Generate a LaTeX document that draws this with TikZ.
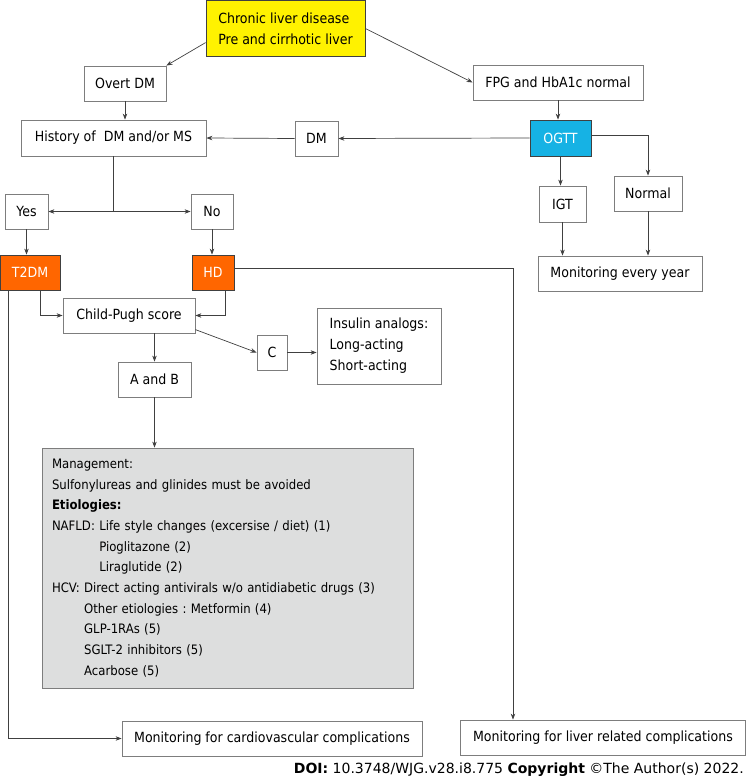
\documentclass[tikz,border=0pt]{standalone}
\usepackage{fontspec}
\setmainfont{DejaVu Sans Condensed}
\newfontfamily\doifont{DejaVu Sans}
\usetikzlibrary{arrows.meta}
\definecolor{cldyellow}{RGB}{255,242,0}
\definecolor{ogttblue}{RGB}{22,178,228}
\definecolor{hotorange}{RGB}{255,102,0}
\definecolor{managegray}{RGB}{221,222,222}
\definecolor{linegray}{RGB}{64,64,64}
\definecolor{framegray}{RGB}{125,125,125}
\frenchspacing

\begin{document}
\begin{tikzpicture}[x=1pt, y=-1pt,
	font=\fontsize{14}{21}\selectfont,
	box/.style={draw=framegray, fill=white, line width=0.8pt, minimum height=35pt, inner sep=0pt},
	hot/.style={box, draw=linegray, fill=hotorange, text=white},
	arr/.style={draw=linegray, line width=0.7pt, -{Stealth[length=6pt,width=4.5pt]}},
	link/.style={draw=linegray, line width=0.7pt}]

	\useasboundingbox (0,0) rectangle (746,783);

	% top row
	\node[box, fill=cldyellow, draw=linegray, minimum width=159pt, minimum height=56pt, align=left] (cld) at (285.5,28.5) {Chronic liver disease\\Pre and cirrhotic liver};
	\node[box, minimum width=82pt] (overt) at (125,83.5) {Overt DM};
	\node[box, minimum width=170pt] (fpg) at (558,82.5) {FPG and HbA1c normal};

	% history and OGTT
	\node[box, minimum width=185pt, minimum height=36pt] (history) at (113.5,138) {History of~ DM and/or MS};
	\node[box, minimum width=43pt] (dmbox) at (316.5,138.5) {DM};
	\node[box, draw=linegray, fill=ogttblue, text=white, minimum width=61pt, minimum height=36pt] (ogtt) at (560.5,138) {OGTT};
	\node[box, minimum width=47pt, minimum height=36pt] (igt) at (562.5,204) {IGT};
	\node[box, minimum width=68pt] (normal) at (648,193.5) {Normal};
	\node[box, minimum width=164pt] (yearly) at (620,273.5) {Monitoring every year};

	% yes / no
	\node[box, minimum width=43pt] (yes) at (26.5,211.5) {Yes};
	\node[box, minimum width=42pt] (no) at (212,211.5) {No};
	\node[hot, minimum width=60pt] (tdm) at (30,272.5) {T2DM};
	\node[hot, minimum width=42pt] (hd) at (213,272.5) {HD};

	% Child-Pugh
	\node[box, minimum width=132pt] (childpugh) at (129,315.5) {Child-Pugh score};
	\node[box, minimum width=73pt] (ab) at (154.5,379.5) {A and B};
	\node[box, minimum width=30pt] (classc) at (272,352.5) {C};
	\node[box, minimum width=124pt, minimum height=76pt, align=left] (insulin) at (379,346) {Insulin analogs:\\Long-acting\\Short-acting};

	\node[box, fill=managegray, minimum width=371pt, minimum height=240pt, text width=351pt, align=left,
		font=\fontsize{13}{20.7}\selectfont] (manage) at (227.5,568) {Management:\\
		Sulfonylureas and glinides must be avoided\\
		\textbf{Etiologies:}\\
		NAFLD: Life style changes (excersise / diet) (1)\\
		\hphantom{NAFLD: }Pioglitazone (2)\\
		\hphantom{NAFLD: }Liraglutide (2)\\
		HCV: Direct acting antivirals w/o antidiabetic drugs (3)\\
		\hphantom{HCV: }Other etiologies : Metformin (4)\\
		\hphantom{HCV: }GLP-1RAs (5)\\
		\hphantom{HCV: }SGLT-2 inhibitors (5)\\
		\hphantom{HCV: }Acarbose (5)};

	% bottom
	\node[box, minimum width=300pt] (cardio) at (272,738.5) {Monitoring for cardiovascular complications};
	\node[box, minimum width=285pt] (livercomp) at (603,737.5) {Monitoring for liver related complications};
	\node[anchor=east, inner sep=0pt, font=\doifont\fontsize{14}{16}\selectfont] (doi) at (744,770) {\textbf{DOI:} 10.3748/WJG.v28.i8.775 \textbf{Copyright} \textcopyright The Author(s) 2022.};

	% connectors
	\draw[arr] (cld.190) -- (overt.north east);
	\draw[arr] (cld.east) -- (fpg.west);
	\draw[arr] (overt.south) -- (overt.south |- history.north);
	\draw[arr] (fpg.south) -- (fpg.south |- ogtt.north);
	\draw[arr] (ogtt.west) -- (dmbox.east);
	\draw[arr] (dmbox.west) -- (history.east);
	\draw[arr] ([yshift=3pt]ogtt.east) -| (normal.north);
	\draw[arr] (ogtt.south) -- (ogtt.south |- igt.north);
	\draw[arr] (igt.south) -- (igt.south |- yearly.north);
	\draw[arr] (normal.south) -- (normal.south |- yearly.north);

	\coordinate (split) at (history.south |- yes.east);
	\draw[link] (history.south) -- (split);
	\draw[arr] (split) -- (yes.east);
	\draw[arr] (split) -- (no.west);
	\draw[arr] (yes.south) -- (yes.south |- tdm.north);
	\draw[arr] (no.south) -- (no.south |- hd.north);

	\draw[arr] ([xshift=10pt]tdm.south) |- (childpugh.west);
	\draw[arr] ([xshift=12pt]hd.south) |- (childpugh.east);
	\draw[arr] (ab.north |- childpugh.south) -- (ab.north);
	\draw[arr] (childpugh.-12) -- (classc.west);
	\draw[arr] (classc.east) -- (classc.east -| insulin.west);
	\draw[arr] (ab.south) -- (ab.south |- manage.north);

	\draw[arr] ([yshift=4pt]hd.east) -| ([xshift=-90pt]livercomp.north);
	\draw[arr] ([xshift=-22pt]tdm.south) |- (cardio.west);

\end{tikzpicture}
\end{document}
